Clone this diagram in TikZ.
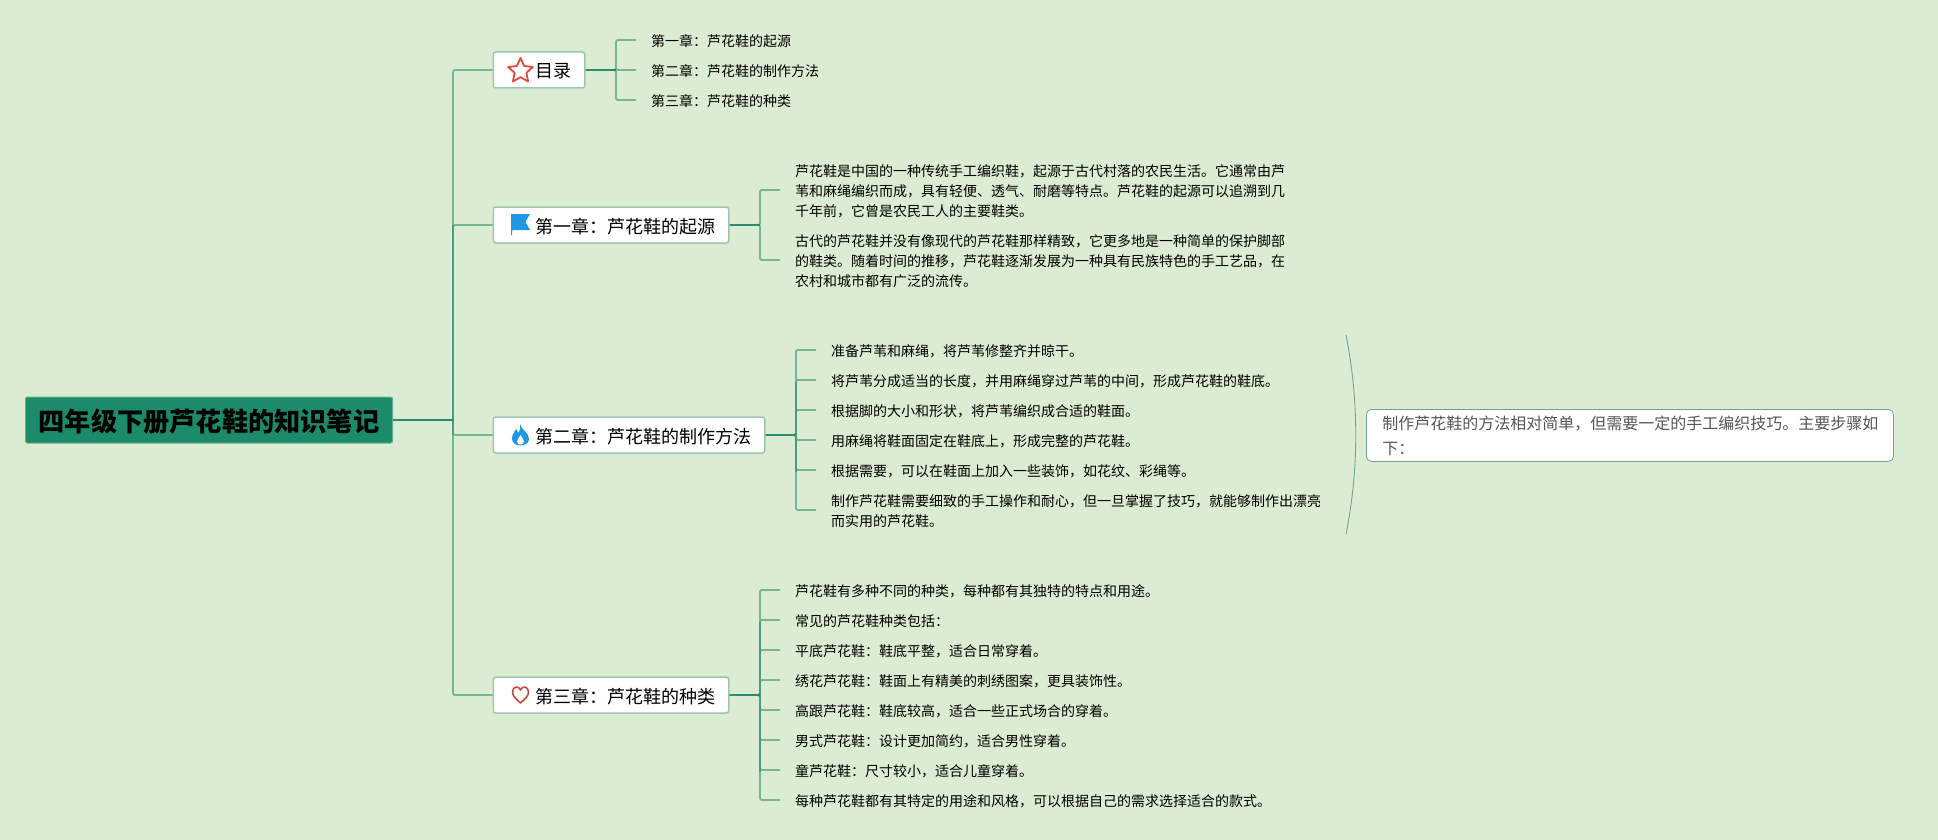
\documentclass[tikz,border=0pt]{standalone}
\usepackage{fontspec}
\setmainfont{Noto Sans CJK SC}
\usetikzlibrary{shapes.geometric}

\definecolor{paper}{HTML}{DCECD2}
\definecolor{rootfill}{HTML}{1C8B69}
\definecolor{rootedge}{HTML}{62B08F}
\definecolor{boxedge}{HTML}{9CC6B2}
\definecolor{lightline}{HTML}{72B896}
\definecolor{midline}{HTML}{4A9D7C}
\definecolor{darkline}{HTML}{2A8C68}
\definecolor{noteedge}{HTML}{6FA596}
\definecolor{notetext}{HTML}{555555}
\definecolor{iconred}{HTML}{E04A3C}
\definecolor{iconblue}{HTML}{1E98E2}

\tikzset{
  rootbox/.style={draw=rootedge,fill=rootfill,line width=1pt,rounded corners=2pt,
    minimum height=46pt,inner xsep=13.2pt,inner ysep=0pt,text height=23pt,text depth=0pt,
    font=\fontsize{26.2}{30}\selectfont\bfseries},
  chapter/.style={draw=boxedge,fill=white,line width=1.5pt,rounded corners=2.5pt,anchor=west,
    minimum height=36pt,inner xsep=13pt,inner ysep=0pt,text height=16pt,text depth=0pt,
    font=\fontsize{18}{22}\selectfont},
  leaf/.style={anchor=west,align=left,inner xsep=15pt,inner ysep=0pt,yshift=-1.5pt,
    font=\fontsize{14}{20}\selectfont},
  note/.style={draw=noteedge,fill=white,line width=0.8pt,rounded corners=5pt,anchor=north west,
    align=left,text=notetext,text width=495pt,minimum height=52pt,inner xsep=16pt,inner ysep=0pt,
    font=\fontsize{16}{25}\selectfont},
  lightlink/.style={draw=lightline,line width=1.9pt,rounded corners=1.5pt},
  midlink/.style={draw=midline,line width=1.9pt},
  darklink/.style={draw=darkline,line width=2.4pt},
  arcline/.style={draw=noteedge,line width=0.9pt}
}
\newcommand{\iconroom}{\hspace*{29.5pt}}

\begin{document}
\begin{tikzpicture}[x=1pt,y=-1pt]
  % Background
  \fill[paper] (0,0) rectangle (1938,840);
  \useasboundingbox (0,0) rectangle (1938,840);

  % Root and chapters
  \node[rootbox] (root) at (209,420) {四年级下册芦花鞋的知识笔记};
  \node[chapter] (mulu) at (492.5,70) {\iconroom 目录};
  \node[chapter] (origin) at (492.5,225) {\iconroom 第一章：芦花鞋的起源};
  \node[chapter] (method) at (492.5,435) {\iconroom 第二章：芦花鞋的制作方法};
  \node[chapter] (kinds) at (492.5,695) {\iconroom 第三章：芦花鞋的种类};

  % Contents
  \node[leaf] (mulu1) at (636,40) {第一章：芦花鞋的起源};
  \node[leaf] (mulu2) at (636,70) {第二章：芦花鞋的制作方法};
  \node[leaf] (mulu3) at (636,100) {第三章：芦花鞋的种类};

  % Origin
  \node[leaf] (origin1) at (780,190) {芦花鞋是中国的一种传统手工编织鞋，起源于古代村落的农民生活。它通常由芦\\苇和麻绳编织而成，具有轻便、透气、耐磨等特点。芦花鞋的起源可以追溯到几\\千年前，它曾是农民工人的主要鞋类。};
  \node[leaf] (origin2) at (780,260) {古代的芦花鞋并没有像现代的芦花鞋那样精致，它更多地是一种简单的保护脚部\\的鞋类。随着时间的推移，芦花鞋逐渐发展为一种具有民族特色的手工艺品，在\\农村和城市都有广泛的流传。};

  % Method
  \node[leaf] (method1) at (816,350) {准备芦苇和麻绳，将芦苇修整齐并晾干。};
  \node[leaf] (method2) at (816,380) {将芦苇分成适当的长度，并用麻绳穿过芦苇的中间，形成芦花鞋的鞋底。};
  \node[leaf] (method3) at (816,410) {根据脚的大小和形状，将芦苇编织成合适的鞋面。};
  \node[leaf] (method4) at (816,440) {用麻绳将鞋面固定在鞋底上，形成完整的芦花鞋。};
  \node[leaf] (method5) at (816,470) {根据需要，可以在鞋面上加入一些装饰，如花纹、彩绳等。};
  \node[leaf] (method6) at (816,510) {制作芦花鞋需要细致的手工操作和耐心，但一旦掌握了技巧，就能够制作出漂亮\\而实用的芦花鞋。};

  % Kinds
  \node[leaf] (kinds1) at (780,590) {芦花鞋有多种不同的种类，每种都有其独特的特点和用途。};
  \node[leaf] (kinds2) at (780,620) {常见的芦花鞋种类包括：};
  \node[leaf] (kinds3) at (780,650) {平底芦花鞋：鞋底平整，适合日常穿着。};
  \node[leaf] (kinds4) at (780,680) {绣花芦花鞋：鞋面上有精美的刺绣图案，更具装饰性。};
  \node[leaf] (kinds5) at (780,710) {高跟芦花鞋：鞋底较高，适合一些正式场合的穿着。};
  \node[leaf] (kinds6) at (780,740) {男式芦花鞋：设计更加简约，适合男性穿着。};
  \node[leaf] (kinds7) at (780,770) {童芦花鞋：尺寸较小，适合儿童穿着。};
  \node[leaf] (kinds8) at (780,800) {每种芦花鞋都有其特定的用途和风格，可以根据自己的需求选择适合的款式。};

  % Summary note
  \node[note] (summary) at (1366,409) {制作芦花鞋的方法相对简单，但需要一定的手工编织技巧。主要步骤如\\下：};
  \coordinate (arctop) at (1346,335);
  \coordinate (arcbot) at (1346,534);
  \draw[arcline] (arctop) .. controls (1359,400) and (1359,470) .. (arcbot);

  % Trunk
  \coordinate (trunk) at (453,420);
  \foreach \n in {mulu,origin,method,kinds}
    \draw[lightlink] (trunk) |- (\n.west);
  \draw[midlink] (trunk |- origin.west) -- (trunk |- method.west);
  \draw[darklink] (root.east) -- (trunk);

  % Chapter brackets
  \coordinate (mulufork) at (616,70);
  \foreach \n in {1,2,3}
    \draw[lightlink] (mulu.east) -- (mulufork) |- ([yshift=1.5pt]mulu\n.west);
  \draw[darklink] (mulu.east) -- (mulufork);

  \coordinate (originfork) at (760,225);
  \foreach \n in {1,2}
    \draw[lightlink] (origin.east) -- (originfork) |- ([yshift=1.5pt]origin\n.west);
  \draw[darklink] (origin.east) -- (originfork);

  \coordinate (methodfork) at (796,435);
  \foreach \n in {1,...,6}
    \draw[lightlink] (method.east) -- (methodfork) |- ([yshift=1.5pt]method\n.west);
  \draw[midlink] (methodfork |- method2.west) -- (methodfork |- method5.west);
  \draw[darklink] (method.east) -- (methodfork);

  \coordinate (kindsfork) at (760,695);
  \foreach \n in {1,...,8}
    \draw[lightlink] (kinds.east) -- (kindsfork) |- ([yshift=1.5pt]kinds\n.west);
  \draw[midlink] (kindsfork |- kinds2.west) -- (kindsfork |- kinds7.west);
  \draw[darklink] (kinds.east) -- (kindsfork);

  % Icons
  \node[star,star points=5,star point ratio=2.1,draw=iconred,fill=white,line width=1.8pt,line join=round,
    minimum size=26pt,inner sep=0pt] (staricon) at (520.5,71) {};
  \fill[iconblue] (511,214) -- (530,214) -- (525.5,222) -- (530,230) -- (512,230) -- (512,235) -- (511,235) -- cycle;
  \fill[iconblue] (520,424) .. controls (521,430) and (529,432) .. (529,439)
    .. controls (529,443) and (525,445.5) .. (520.5,445.5)
    .. controls (516,445.5) and (512,443) .. (512,438.5)
    .. controls (512,434) and (515,432) .. (516,429)
    .. controls (517,431) and (518,432) .. (518.5,433) .. controls (520,431) and (520.5,428) .. (520,424) -- cycle;
  \fill[white] (520.5,435) .. controls (522,438) and (524,439.5) .. (524,441.5)
    .. controls (524,443.5) and (522,444.5) .. (520.5,444.5)
    .. controls (519,444.5) and (517,443.5) .. (517,441.5)
    .. controls (517,439.5) and (519.5,438) .. (520.5,435) -- cycle;
  \draw[iconred!90!black,line width=1.5pt,line join=round] (520.5,703) .. controls (516,699) and (512.5,696) .. (512.5,692)
    .. controls (512.5,686) and (519,685.5) .. (520.5,690)
    .. controls (522,685.5) and (528.5,686) .. (528.5,692)
    .. controls (528.5,696) and (525,699) .. (520.5,703) -- cycle;
\end{tikzpicture}
\end{document}
